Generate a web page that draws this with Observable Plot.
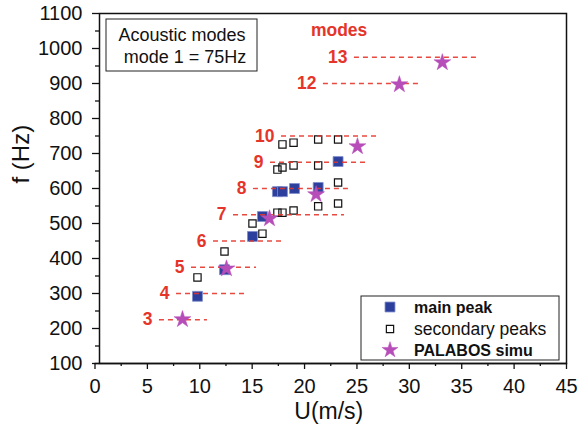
<!DOCTYPE html>
<html><head><meta charset="utf-8">
<script src="https://cdn.jsdelivr.net/npm/d3@7"></script>
<script src="https://cdn.jsdelivr.net/npm/@observablehq/plot@0.6"></script>
<style>
body{margin:0;background:#fff;}
#chart{width:586px;height:433px;}
svg{font-family:"Liberation Sans",Arial,Helvetica,sans-serif;}
</style></head><body><div id="chart"></div>
<script>
// acoustic modes (mode 1 = 75 Hz)
const modeNumbers = [3, 4, 5, 6, 7, 8, 9, 10, 12, 13];
const modeFreq    = [225, 300, 375, 450, 525, 600, 675, 750, 900, 975];
const modeUStart  = [6.15, 7.78, 9.21, 11.31, 13.22, 15.12, 16.75, 17.8, 21.8, 24.76];
const modeUEnd    = [10.73, 14.27, 15.41, 17.99, 23.81, 24.48, 25.9, 27.24, 31.25, 36.59];

// main peak
const mainU = [9.78, 12.36, 15.03, 15.98, 17.41, 17.89, 19.04, 21.3, 23.2];
const mainF = [292, 368, 463, 520, 591, 591, 600, 603, 677];

// secondary peaks
const secU = [9.78, 12.36, 15.03, 15.98, 17.41, 17.89, 18.95, 21.3, 23.2, 23.2, 17.41, 17.89, 18.95, 21.3, 17.89, 18.95, 21.3, 23.2];
const secF = [346, 420, 500, 471, 531, 531, 537, 549, 557, 617, 654, 660, 666, 666, 726, 731, 740, 740];

// PALABOS simulation
const simU = [8.35, 12.55, 16.65, 21.1, 25.05, 29.05, 33.15];
const simF = [226, 371, 514, 583, 720, 897, 960];

const xTicks = [0, 5, 10, 15, 20, 25, 30, 35, 40, 45];
const xMinor = [2.5, 7.5, 12.5, 17.5, 22.5, 27.5, 32.5, 37.5, 42.5];
const yTicks = [100, 200, 300, 400, 500, 600, 700, 800, 900, 1000, 1100];
const yMinor = [150, 250, 350, 450, 550, 650, 750, 850, 950, 1050];

const legendLabels = ["main peak", "secondary peaks", "PALABOS simu"];
const boxLines = ["Acoustic modes", "mode 1 = 75Hz"];

const RED = "#e5352b", BLUE = "#2c3f9d", MAG = "#b64db8";

const modes = modeNumbers.map((n, i) => ({n, f: modeFreq[i], u1: modeUStart[i], u2: modeUEnd[i]}));
const main = mainU.map((u, i) => ({u, f: mainF[i]}));
const sec = secU.map((u, i) => ({u, f: secF[i]}));
const sim = simU.map((u, i) => ({u, f: simF[i]}));

const plot = Plot.plot({
  width: 586, height: 433,
  marginLeft: 94.5, marginRight: 20, marginTop: 13, marginBottom: 70,
  x: {domain: [0, 45], label: null},
  y: {domain: [100, 1100], label: null},
  style: {fontFamily: '"Liberation Sans", Arial, sans-serif', fontSize: "20px", color: "#111", background: "#fff", overflow: "visible"},
  marks: [
    Plot.dot(sec, {x: "u", y: "f", symbol: "square", r: 4.1, stroke: "#111", strokeWidth: 1.2, fill: "none"}),
    Plot.dot(main, {x: "u", y: "f", symbol: "square", r: 5.6, fill: BLUE, stroke: "#7d8bcc", strokeWidth: 0.8}),
    Plot.ruleY(modes, {y: "f", x1: "u1", x2: "u2", stroke: RED, strokeDasharray: "5,4", strokeWidth: 1.3, strokeOpacity: 0.9}),
    Plot.text(modes, {x: "u1", y: "f", text: d => String(d.n), textAnchor: "end", dx: -7, fill: RED, fontWeight: "bold", fontSize: 17.5}),
    Plot.text(["modes"], {x: [23.3], y: [1051], text: d => d, fill: RED, fontWeight: "bold", fontSize: 17.5}),
    Plot.dot(sim, {x: "u", y: "f", symbol: "star", r: 5.3, fill: MAG, stroke: MAG, strokeWidth: 0.5}),
    Plot.frame({insetLeft: 4.5, stroke: "#111", strokeWidth: 1.5}),
    Plot.ruleY([100], {stroke: "#111", strokeWidth: 1.5}),
    Plot.axisX({ticks: xTicks, tickSize: 6, tickPadding: 9, tickFormat: d => String(d), label: null, strokeWidth: 1.3, fontSize: 20}),
    Plot.axisX({ticks: xMinor, tickSize: 3, tickFormat: () => "", label: null, strokeWidth: 1.3}),
    Plot.axisY({ticks: yTicks, tickSize: 7, tickPadding: 10, dx: 4.5, tickFormat: d => String(d), label: null, strokeWidth: 1.3, fontSize: 20}),
    Plot.axisY({ticks: yMinor, tickSize: 4, dx: 4.5, tickFormat: () => "", label: null, strokeWidth: 1.3}),
    Plot.text(["U(m/s)"], {frameAnchor: "bottom", text: d => d, dx: -2, dy: 55, fontSize: 23, fill: "#111"}),
    Plot.text(["f (Hz)"], {frameAnchor: "left", text: d => d, rotate: -90, dx: -74, dy: -5, fontSize: 24, fill: "#111"})
  ]
});

document.getElementById("chart").appendChild(plot);

// annotation box and legend
const svg = d3.select(plot);
const note = svg.append("g");
note.append("rect").attr("x", 106).attr("y", 19).attr("width", 151).attr("height", 52)
  .attr("fill", "#fff").attr("stroke", "#222").attr("stroke-width", 1);
note.append("text").attr("x", 182).attr("y", 41).attr("text-anchor", "middle")
  .attr("font-size", 18).attr("fill", "#111").text(boxLines[0]);
note.append("text").attr("x", 185).attr("y", 63).attr("text-anchor", "middle")
  .attr("font-size", 18).attr("fill", "#111").text(boxLines[1]);

const leg = svg.append("g");
leg.append("rect").attr("x", 361).attr("y", 296).attr("width", 198).attr("height", 64)
  .attr("fill", "#fff").attr("stroke", "#222").attr("stroke-width", 1);
const rowY = [307, 329, 350];
const syms = [
  {type: d3.symbolSquare, r: 5.6, fill: BLUE, stroke: "#7d8bcc", sw: 0.8},
  {type: d3.symbolSquare, r: 4.1, fill: "none", stroke: "#111", sw: 1.2},
  {type: d3.symbolStar, r: 5.0, fill: MAG, stroke: MAG, sw: 0.5}
];
legendLabels.forEach((lab, i) => {
  const s = syms[i];
  leg.append("path").attr("transform", `translate(390,${rowY[i]})`)
    .attr("d", d3.symbol(s.type, Math.PI * s.r * s.r)())
    .attr("fill", s.fill).attr("stroke", s.stroke).attr("stroke-width", s.sw);
  leg.append("text").attr("x", 414).attr("y", rowY[i]).attr("dy", "0.36em")
    .attr("text-anchor", "start")
    .attr("font-size", i === 1 ? 17.5 : 16).attr("font-weight", i === 1 ? "normal" : "bold")
    .attr("fill", "#111").text(lab);
});
</script></body></html>
